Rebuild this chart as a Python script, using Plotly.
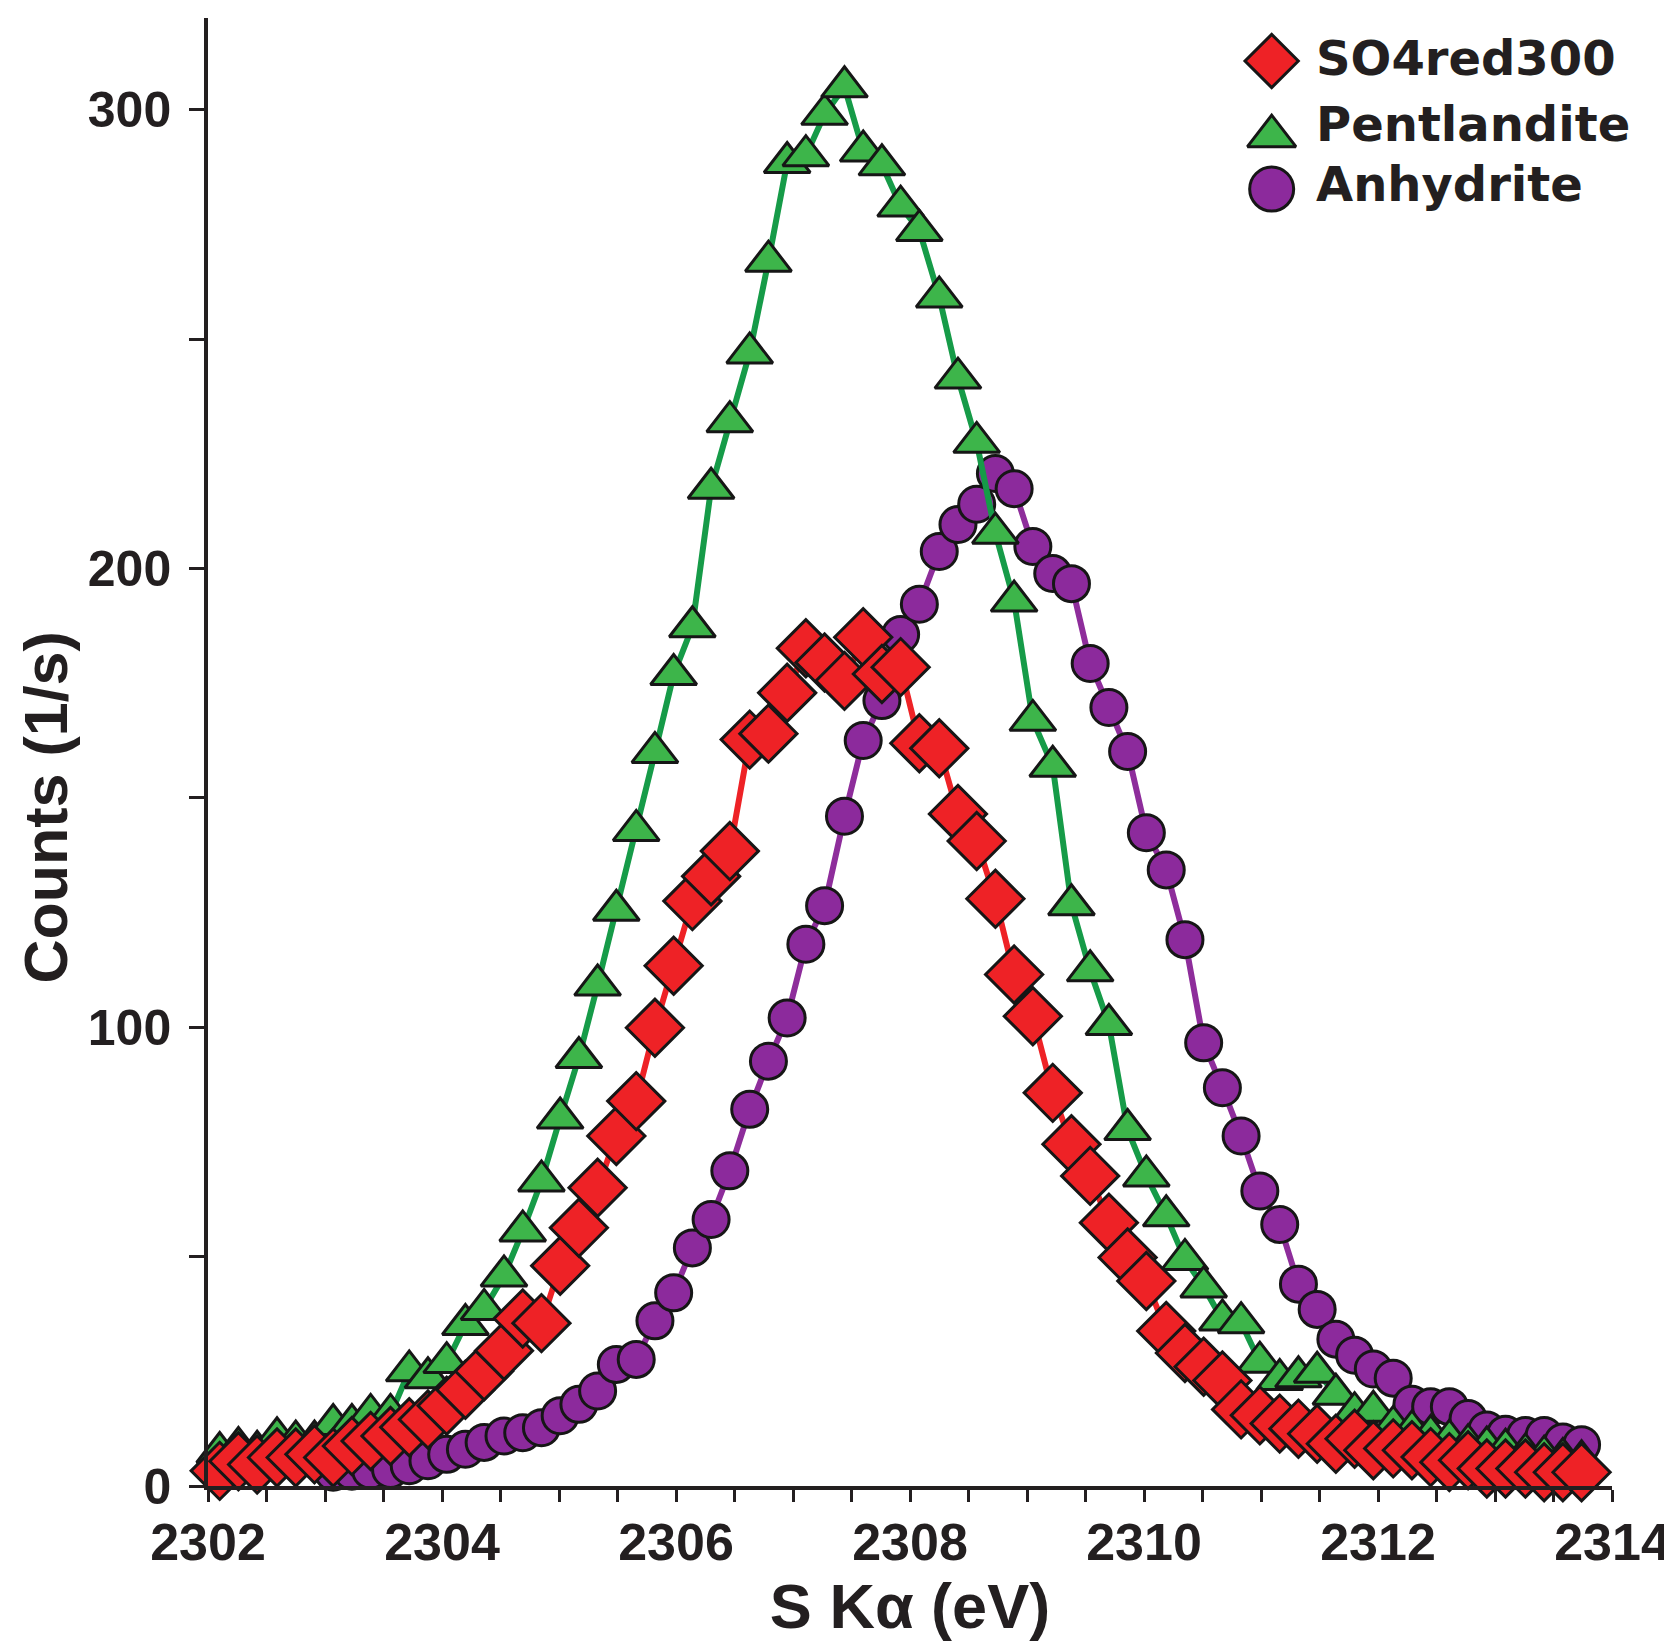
import plotly.graph_objects as go

# ---------------- data ----------------
X_EV = [2302.10, 2302.26, 2302.42, 2302.59, 2302.75, 2302.91, 2303.07, 2303.23, 2303.39, 2303.56,
        2303.72, 2303.88, 2304.04, 2304.20, 2304.36, 2304.53, 2304.69, 2304.85, 2305.01, 2305.17,
        2305.33, 2305.49, 2305.66, 2305.82, 2305.98, 2306.14, 2306.30, 2306.46, 2306.63, 2306.79,
        2306.95, 2307.11, 2307.27, 2307.44, 2307.60, 2307.76, 2307.92, 2308.08, 2308.25, 2308.41,
        2308.57, 2308.73, 2308.89, 2309.05, 2309.22, 2309.38, 2309.54, 2309.70, 2309.86, 2310.02,
        2310.19, 2310.35, 2310.51, 2310.67, 2310.83, 2310.99, 2311.16, 2311.32, 2311.48, 2311.64,
        2311.80, 2311.96, 2312.13, 2312.29, 2312.45, 2312.61, 2312.77, 2312.93, 2313.09, 2313.26,
        2313.42, 2313.58, 2313.74]

SO4RED300 = [3.3, 5.4, 4.7, 6.2, 6.2, 6.9, 6.2, 8.7, 9.8, 10.9,
             12.8, 14.5, 17.5, 21.0, 25.0, 29.5, 36.5, 35.5, 48.0, 56.3,
             65.0, 76.3, 83.9, 99.9, 113.4, 127.5, 132.9, 138.4, 162.7, 164.0,
             172.9, 182.6, 179.5, 175.5, 185.0, 177.0, 178.5, 161.9, 160.8, 146.5,
             140.6, 128.0, 111.5, 102.4, 85.7, 74.5, 67.6, 57.4, 49.8, 44.7,
             33.8, 29.0, 26.0, 23.0, 16.7, 15.4, 13.6, 12.5, 11.4, 9.2,
             10.3, 7.8, 8.2, 7.8, 6.3, 5.2, 5.6, 3.8, 3.8, 3.8,
             3.0, 3.0, 3.0]

PENTLANDITE = [7.3, 8.4, 7.6, 10.5, 9.8, 9.8, 13.4, 13.4, 15.6, 15.6,
               25.1, 23.6, 26.9, 35.2, 38.5, 45.8, 55.6, 66.5, 80.2, 93.4,
               109.2, 125.5, 142.9, 159.9, 176.9, 187.3, 217.5, 232.0, 247.0, 267.0,
               288.5, 290.0, 299.0, 305.0, 291.0, 288.0, 279.0, 273.7, 259.2, 241.5,
               227.5, 207.7, 192.9, 166.9, 156.9, 126.7, 112.3, 100.6, 77.7, 67.6,
               58.9, 49.4, 43.4, 36.2, 35.6, 27.0, 23.2, 23.8, 24.8, 20.0,
               16.0, 16.3, 13.0, 12.0, 11.0, 10.0, 9.0, 8.5, 8.0, 7.0,
               6.5, 6.0, 5.5]

# Anhydrite starts at the seventh energy point
ANHYDRITE_START = 6
ANHYDRITE = [3.0, 3.2, 3.4, 3.6,
             4.4, 5.5, 6.9, 8.0, 9.5, 10.9, 11.6, 12.7, 15.3, 17.8,
             20.7, 26.5, 27.6, 36.0, 42.1, 51.9, 58.1, 68.7, 82.1, 92.6,
             102.0, 118.1, 126.5, 146.0, 162.5, 171.2, 185.6, 192.2, 203.7, 209.6,
             214.0, 220.7, 217.4, 204.8, 198.9, 196.7, 179.3, 169.7, 160.1, 142.4,
             134.3, 119.1, 96.6, 86.8, 76.3, 64.3, 57.0, 44.0, 38.5, 32.0,
             28.5, 25.5, 23.5, 17.8, 17.3, 17.3, 14.7, 12.2, 11.3, 11.0,
             11.0, 9.6, 9.0]

SERIES_NAMES = ["SO4red300", "Pentlandite", "Anhydrite"]

# ---------------- styles ----------------
INK = "#231f20"
OUTLINE = "#161616"
STYLE = {
    "SO4red300":   dict(symbol="diamond",     fill="#ee2226", line="#ee2226", size=44, lsize=41),
    "Pentlandite": dict(symbol="triangle-up", fill="#3db54a", line="#169b48", size=40, lsize=42),
    "Anhydrite":   dict(symbol="circle",      fill="#8c2a9c", line="#8e2d9b", size=36, lsize=44),
}
FONT = "Liberation Sans, Arial, Helvetica, sans-serif"
LEGEND_FONT = "DejaVu Sans, Verdana, sans-serif"

series_data = {
    "SO4red300": (X_EV, SO4RED300),
    "Pentlandite": (X_EV, PENTLANDITE),
    "Anhydrite": (X_EV[ANHYDRITE_START:], ANHYDRITE),
}

fig = go.Figure()

# draw order: Anhydrite (bottom), Pentlandite, SO4red300 (top)
for name in ["Anhydrite", "Pentlandite", "SO4red300"]:
    xs, ys = series_data[name]
    st = STYLE[name]
    fig.add_trace(go.Scatter(
        x=xs, y=ys, name=name, mode="lines+markers",
        line=dict(color=st["line"], width=6),
        marker=dict(symbol=st["symbol"], size=st["size"], color=st["fill"],
                    line=dict(color=OUTLINE, width=3)),
        cliponaxis=False, showlegend=False,
    ))

# ---------------- custom legend (large symbols, like the reference) ----------------
LEG_MARK_X = 0.7576
LEG_TEXT_X = 0.788
LEG_ROWS_Y = [0.9707, 0.9195, 0.8835]
LEG_TEXT_Y = [0.9725, 0.9275, 0.8870]
for i, name in enumerate(SERIES_NAMES):
    st = STYLE[name]
    fig.add_trace(go.Scatter(
        x=[LEG_MARK_X], y=[LEG_ROWS_Y[i]], xaxis="x2", yaxis="y2", mode="markers",
        marker=dict(symbol=st["symbol"], size=st["lsize"], color=st["fill"],
                    line=dict(color=OUTLINE, width=3)),
        cliponaxis=False, showlegend=False, hoverinfo="skip",
    ))
    fig.add_annotation(
        x=LEG_TEXT_X, y=LEG_TEXT_Y[i], xref="paper", yref="paper",
        text=name, showarrow=False, xanchor="left", yanchor="middle",
        font=dict(family=LEGEND_FONT, size=48, color=INK, weight="bold"),
    )

# y-axis title placed as in the reference (below the vertical centre)
fig.add_annotation(
    x=-0.1155, y=0.462, xref="paper", yref="paper", text="Counts (1/s)",
    showarrow=False, textangle=-90, xanchor="center", yanchor="middle",
    font=dict(family=FONT, size=61, color=INK, weight="bold"),
)

axis_common = dict(
    showline=True, linewidth=3.5, linecolor=INK, mirror=False,
    ticks="outside", tickwidth=3, tickcolor=INK,
    showgrid=False, zeroline=False,
)

fig.update_layout(
    width=1672, height=1650,
    margin=dict(l=200, r=61, t=10, b=172),
    paper_bgcolor="white", plot_bgcolor="white",
    showlegend=False,
    xaxis=dict(
        **axis_common,
        range=[2302, 2314], tick0=2302, dtick=2, ticklen=12,
        minor=dict(dtick=0.5, ticks="outside", ticklen=12, tickwidth=3, tickcolor=INK, showgrid=False),
        tickfont=dict(family=FONT, size=52, color=INK, weight="bold"),
        ticklabelstandoff=-4,
        title=dict(text="S Kα (eV)", standoff=12,
                   font=dict(family=FONT, size=63, color=INK, weight="bold")),
    ),
    yaxis=dict(
        **axis_common,
        range=[0, 320], tick0=0, dtick=100, ticklen=15,
        minor=dict(dtick=50, ticks="outside", ticklen=15, tickwidth=3, tickcolor=INK, showgrid=False),
        tickfont=dict(family=FONT, size=50, color=INK, weight="bold"),
        ticklabelstandoff=8,
    ),
    xaxis2=dict(range=[0, 1], visible=False, overlaying="x", anchor="y2", fixedrange=True),
    yaxis2=dict(range=[0, 1], visible=False, overlaying="y", anchor="x2", fixedrange=True),
)

fig.write_html("out.html")
